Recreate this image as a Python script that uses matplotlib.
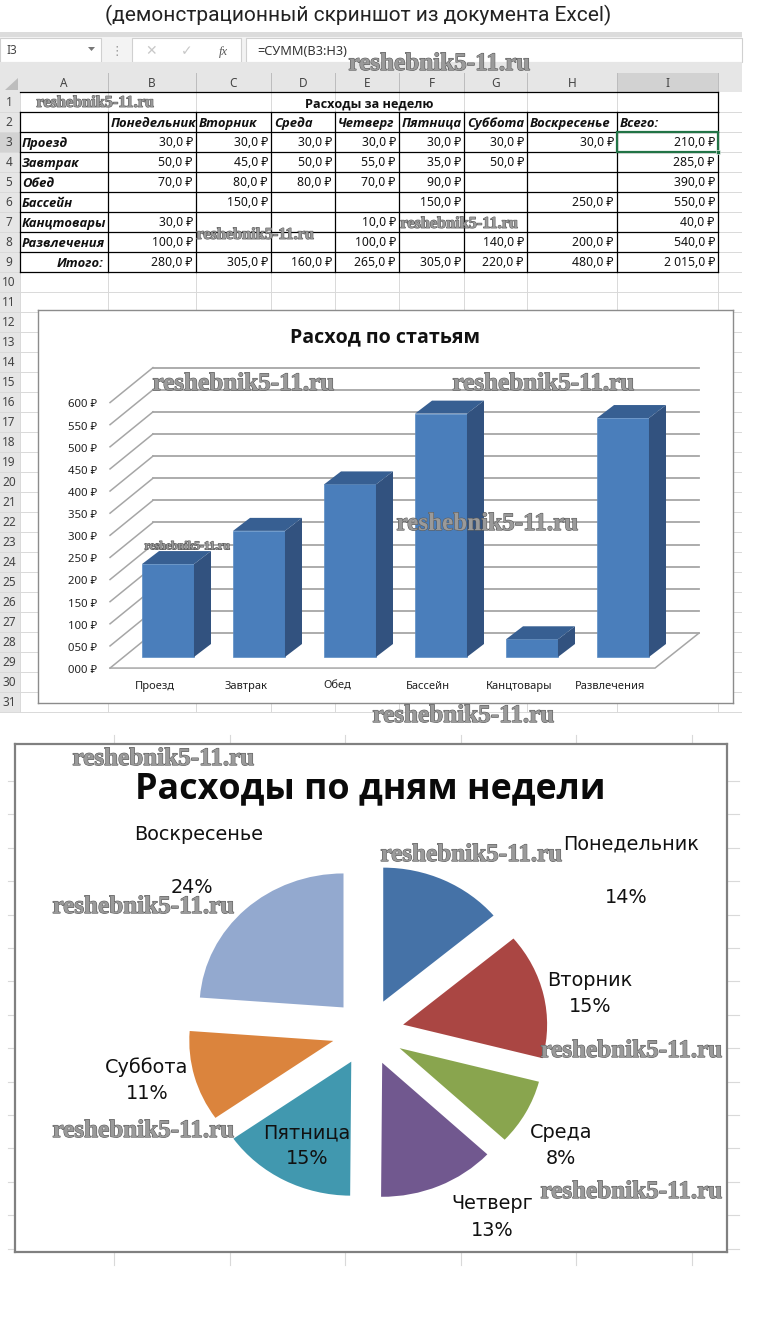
import matplotlib
matplotlib.use("Agg")
import matplotlib.pyplot as plt
import matplotlib.patheffects as pe
from matplotlib.patches import Polygon, Rectangle

W, H = 760, 1337

# Spreadsheet data
days = ["Понедельник", "Вторник", "Среда", "Четверг", "Пятница", "Суббота", "Воскресенье"]
rows = ["Проезд", "Завтрак", "Обед", "Бассейн", "Канцтовары", "Развлечения"]
proezd = [30, 30, 30, 30, 30, 30, 30]
zavtrak = [50, 45, 50, 55, 35, 50, None]
obed = [70, 80, 80, 70, 90, None, None]
bassein = [None, 150, None, None, 150, None, 250]
kanc = [30, None, None, 10, None, None, None]
razvl = [100, None, None, 100, None, 140, 200]
row_totals = [210, 285, 390, 550, 40, 540]
day_totals = [280, 305, 160, 265, 305, 220, 480]
grand_total = 2015

value_ticks = [0, 50, 100, 150, 200, 250, 300, 350, 400, 450, 500, 550, 600]
tick_labels = ["000 ₽", "050 ₽", "100 ₽", "150 ₽", "200 ₽", "250 ₽", "300 ₽",
               "350 ₽", "400 ₽", "450 ₽", "500 ₽", "550 ₽", "600 ₽"]
pie_percent = ["14%", "15%", "8%", "13%", "15%", "11%", "24%"]
pie_colors = ["#4572A7", "#AA4643", "#89A54E", "#71588F", "#4198AF", "#DB843D", "#93A9CF"]

col_letters = ["A", "B", "C", "D", "E", "F", "G", "H", "I"]
col_edges = [20, 108, 196, 271, 335, 399, 464, 527, 617, 718]
watermark = "reshebnik5-11.ru"

FONT = ["Noto Sans", "DejaVu Sans"]
BOLD = ["Open Sans", "DejaVu Sans"]
plt.rcParams["font.family"] = FONT

fig = plt.figure(figsize=(W / 100, H / 100), dpi=100, facecolor="white")

# Background axes in pixel coordinates, holds the Excel window
bg = fig.add_axes([0, 0, 1, 1], zorder=0)
bg.set_xlim(0, W)
bg.set_ylim(H, 0)
bg.axis("off")


def put(x, y, s, fontsize=9, **kw):
    # y is the middle of the capitals, so descenders do not shift a row of labels
    kw.setdefault("ha", "center")
    kw.setdefault("color", "#111111")
    return fig.text(x / W, 1 - (y + 0.5 * fontsize) / H, s, va="baseline", fontsize=fontsize, **kw)


def money(v):
    s = f"{v:,.1f}".replace(",", " ").replace(".", ",")
    return s + " ₽"


put(358, 14, "(демонстрационный скриншот из документа Excel)", family=["Roboto", "DejaVu Sans"],
    fontsize=15.05, color="#222222")

# Ribbon / formula bar
bg.add_patch(Rectangle((0, 32), 742, 5, fc="#dcdcdc", ec="none"))
bg.add_patch(Rectangle((0, 37), 742, 25, fc="#f3f3f3", ec="none"))
bg.add_patch(Rectangle((0, 38), 101, 24, fc="white", ec="#d0d0d0", lw=0.8))
bg.add_patch(Rectangle((132, 38), 109, 24, fc="white", ec="#d0d0d0", lw=0.8))
bg.add_patch(Rectangle((246, 38), 496, 24, fc="white", ec="#d0d0d0", lw=0.8))
bg.add_patch(Polygon([(88, 47), (95, 47), (91.5, 51)], fc="#777777", ec="none"))
put(12, 50, "I3", fontsize=8.5, color="#444444")
put(117, 50, "⋮", fontsize=9, color="#999999", family=["DejaVu Sans"])
put(151, 50, "✕", fontsize=10, color="#c8c8c8", family=["DejaVu Sans"])
put(187, 50, "✓", fontsize=10, color="#c8c8c8", family=["DejaVu Sans"])
put(223, 50, "fx", fontsize=9, color="#555555", style="italic", family=["Liberation Serif"])
put(257, 50, "=СУММ(B3:H3)", fontsize=9.2, ha="left", color="#333333")

# Column and row headers
bg.add_patch(Rectangle((0, 62), 742, 30, fc="#e6e6e6", ec="none"))
bg.add_patch(Rectangle((0, 92), 20, 620, fc="#e6e6e6", ec="none"))
bg.add_patch(Polygon([(5, 90), (18, 90), (18, 78)], fc="#bdbdbd", ec="none"))
bg.add_patch(Rectangle((617, 73), 101, 19, fc="#d2d2d2", ec="none"))
bg.add_patch(Rectangle((0, 132), 20, 20, fc="#d2d2d2", ec="none"))
for i, letter in enumerate(col_letters):
    put((col_edges[i] + col_edges[i + 1]) / 2, 83, letter, fontsize=8.5, color="#444444")
    bg.plot([col_edges[i + 1]] * 2, [73, 92], color="#bcbcbd", lw=0.7)

# Light cell grid
for n in range(31):
    y = 92 + 20 * n
    put(9, y + 10, str(n + 1), fontsize=8.5, color="#444444")
    bg.plot([0, 741], [y + 20, y + 20], color="#d9d9d9", lw=0.7, zorder=1)
for x in col_edges:
    bg.plot([x, x], [92, 712], color="#d9d9d9", lw=0.7, zorder=1)

# Table borders
for y in range(112, 273, 20):
    bg.plot([20, 718], [y, y], color="black", lw=0.9, zorder=2)
for x in col_edges:
    bg.plot([x, x], [112, 272], color="black", lw=0.9, zorder=2)
bg.plot([20, 718], [92, 92], color="black", lw=0.9, zorder=2)
bg.plot([718, 718], [92, 112], color="black", lw=0.9, zorder=2)
bg.add_patch(Rectangle((617, 132), 101, 20, fc="none", ec="#217346", lw=1.6, zorder=3))
bg.add_patch(Rectangle((716, 150), 4, 4, fc="#217346", ec="white", lw=0.4, zorder=4))

put(369, 103, "Расходы за неделю", fontsize=9.1, weight="bold", family=BOLD)
for i, d in enumerate(days + ["Всего:"]):
    put(col_edges[i + 1] + 3, 122, d, fontsize=9.4, weight="bold", style="italic", ha="left", family=BOLD)

table = [proezd, zavtrak, obed, bassein, kanc, razvl]
for r, name in enumerate(rows):
    y = 142 + 20 * r
    put(22, y, name, fontsize=9.4, weight="bold", style="italic", ha="left", family=BOLD)
    for c, v in enumerate(table[r]):
        if v is not None:
            put(col_edges[c + 2] - 3, y, money(v), fontsize=8.8, ha="right")
    put(col_edges[9] - 3, y, money(row_totals[r]), fontsize=8.8, ha="right")
put(104, 262, "Итого:", fontsize=9.4, weight="bold", style="italic", ha="right", family=BOLD)
for c, v in enumerate(day_totals):
    put(col_edges[c + 2] - 3, 262, money(v), fontsize=8.8, ha="right")
put(col_edges[9] - 3, 262, money(grand_total), fontsize=8.8, ha="right")

# Bar chart: x is the category index, y is the value
PX_X = 91.0
PX_Y = 0.4425
X0, Y0 = 168, 657
bar = fig.add_axes([38 / W, 1 - 703 / H, 695 / W, 393 / H], zorder=1, facecolor="white")
bar.set_xlim((38 - X0) / PX_X, (733 - X0) / PX_X)
bar.set_ylim((Y0 - 703) / PX_Y, (Y0 - 310) / PX_Y)
bar.set_xticks([])
bar.set_yticks([])
for s in bar.spines.values():
    s.set_color("#8c8c8c")
    s.set_linewidth(1)

front_x, back_x, right_x = -0.637, -0.165, 5.835
front_dy, back_dy = -25, 54
grid_color = "#a6a6a6"
for v, lab in zip(value_ticks, tick_labels):
    bar.plot([front_x, back_x], [v + front_dy, v + back_dy], color=grid_color, lw=1.1, zorder=1)
    bar.plot([back_x, right_x], [v + back_dy, v + back_dy], color=grid_color, lw=1.3, zorder=1)
    bar.text(front_x - 0.14, v + front_dy - 11, lab, fontsize=8.2, ha="right", va="baseline", color="#222222")
bar.plot([front_x, 5.352, right_x], [front_dy, front_dy, back_dy], color=grid_color, lw=1.1, zorder=1)

categories = rows
values = row_totals
bw = 0.571
dep_x, dep_y = 0.187, 29.4
bar.bar(range(len(values)), values, width=bw, color="#4A7EBB", edgecolor="#5a8cc4", lw=0.5, zorder=3)
for i, v in enumerate(values):
    l, r = i - bw / 2, i + bw / 2
    bar.add_patch(Polygon([(r, 0), (r + dep_x, dep_y), (r + dep_x, v + dep_y), (r, v)],
                          fc="#32527F", ec="none", zorder=3))
    bar.add_patch(Polygon([(l, v), (l + dep_x, v + dep_y), (r + dep_x, v + dep_y), (r, v)],
                          fc="#375F92", ec="none", zorder=3))
    bar.text(i - 0.143, (Y0 - 689) / PX_Y, categories[i], fontsize=8, ha="center", va="baseline",
             color="#222222")
bar.text((385 - X0) / PX_X, (Y0 - 342) / PX_Y, "Расход по статьям", fontsize=14.1, weight="bold",
         ha="center", va="baseline", color="#111111", family=BOLD)

# Pie chart, slightly stretched horizontally like the screenshot
RX, RY = 144.0, 134.0
CX, CY = 368, 1032
pie = fig.add_axes([15 / W, 1 - 1252 / H, 712 / W, 508 / H], zorder=1, facecolor="white")
pie.pie(day_totals, explode=[0.25] * len(day_totals), startangle=90, counterclock=False,
        colors=pie_colors, frame=True)
pie.set_aspect("auto")
pie.set_xlim((15 - CX) / RX, (727 - CX) / RX)
pie.set_ylim((CY - 1252) / RY, (CY - 744) / RY)
pie.set_xticks([])
pie.set_yticks([])
for s in pie.spines.values():
    s.set_color("#808080")
    s.set_linewidth(1.6)

# Tick stubs of the sheet grid around the pasted picture
for k in range(15):
    y = 781 + 33.4 * k
    bg.plot([8, 15], [y, y], color="#d9d9d9", lw=0.8)
    bg.plot([727, 739], [y, y], color="#d9d9d9", lw=0.8)
for k in range(6):
    x = 114 + 115.5 * k
    bg.plot([x, x], [735, 744], color="#d9d9d9", lw=0.8)
    bg.plot([x, x], [1252, 1265], color="#d9d9d9", lw=0.8)

put(370, 785, "Расходы по дням недели", fontsize=25.8, weight="bold", color="#0a0a0a", family=BOLD)
pie_label_pos = [(631, 843, 626, 896), (590, 979, 590, 1005), (561, 1131, 561, 1157),
                 (492, 1202, 492, 1229), (307, 1131, 307, 1157), (147, 1066, 147, 1092),
                 (199, 833, 192, 886)]
for d, pct, (x1, y1, x2, y2) in zip(days, pie_percent, pie_label_pos):
    put(x1, y1, d, fontsize=13.9, family=["DejaVu Sans"])
    put(x2, y2, pct, fontsize=13.9, family=["DejaVu Sans"])

# Site watermarks over everything
wm_big = [(439, 64), (243, 384), (543, 384), (487, 524), (463, 716), (163, 759), (471, 855),
          (143, 907), (631, 1051), (143, 1131), (631, 1192)]
wm_small = [(95, 103), (255, 235), (459, 224)]
effects = [pe.withStroke(linewidth=0.8, foreground="#5a5a5a")]
fam = ["Liberation Serif", "DejaVu Serif"]
for x, y in wm_big:
    put(x, y - 3, watermark, fontsize=18.1, weight="bold", family=fam, color="#9a9a9a", path_effects=effects)
for x, y in wm_small:
    put(x, y - 2, watermark, fontsize=11.7, weight="bold", family=fam, color="#9a9a9a", path_effects=effects)
put(187, 545, watermark, fontsize=8.5, weight="bold", family=fam, color="#9a9a9a", path_effects=effects)

fig.savefig("out.png", dpi=100)
